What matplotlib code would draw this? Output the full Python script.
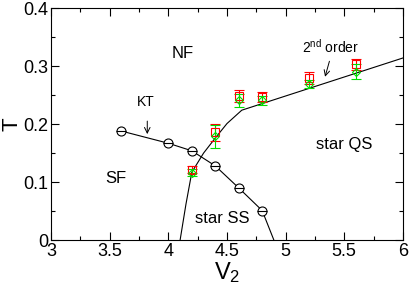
import matplotlib
matplotlib.use("Agg")
import matplotlib.pyplot as plt

plt.rcParams["font.family"] = ["Liberation Sans", "DejaVu Sans"]
plt.rcParams["mathtext.fontset"] = "custom"
plt.rcParams["mathtext.rm"] = "Liberation Sans"
plt.rcParams["mathtext.it"] = "Liberation Sans"

# KT line (circles)
kt_v = [3.6, 4.0, 4.2, 4.4, 4.6, 4.8, 4.9]
kt_t = [0.188, 0.167, 0.154, 0.128, 0.090, 0.051, 0.0]
kt_mark_v = [3.6, 4.0, 4.2, 4.4, 4.6, 4.8]
kt_mark_t = [0.188, 0.167, 0.154, 0.128, 0.090, 0.051]

# other boundary line
b_v = [4.1, 4.15, 4.2, 4.3, 4.4, 4.5, 4.626, 6.0]
b_t = [0.0, 0.062, 0.117, 0.150, 0.176, 0.201, 0.224, 0.314]

# data with error bars
pts_v = [4.2, 4.4, 4.6, 4.8, 5.2, 5.6]
red_t = [0.121, 0.186, 0.249, 0.247, 0.279, 0.303]
red_err = [0.006, 0.015, 0.010, 0.008, 0.010, 0.010]
green_t = [0.116, 0.179, 0.241, 0.241, 0.269, 0.290]
green_err = [0.006, 0.020, 0.011, 0.008, 0.007, 0.013]

fig = plt.figure(figsize=(4.09, 2.90), dpi=100)
ax = fig.add_axes([0.125, 0.172, 0.86, 0.8])

ax.plot(kt_v, kt_t, color="black", lw=0.8)
ax.plot(b_v, b_t, color="black", lw=0.8)
ax.plot(kt_mark_v, kt_mark_t, "o", mfc="white", mec="black", ms=6.5, mew=0.8)
ax.plot(kt_mark_v, kt_mark_t, "_", color="black", ms=6.5, mew=0.8)

ax.errorbar(pts_v, red_t, yerr=red_err, fmt="s", mfc="none", mec="red",
            ecolor="red", ms=6, mew=0.8, elinewidth=0.8, capsize=3.5, capthick=0.8)
ax.errorbar(pts_v, green_t, yerr=green_err, fmt="D", mfc="none", mec="#00dd00",
            ecolor="#00dd00", ms=4.5, mew=0.8, elinewidth=0.8, capsize=3.5, capthick=0.8)

ax.text(4.12, 0.322, "NF", fontsize=12, ha="center", va="center")
ax.text(3.55, 0.107, "SF", fontsize=12, ha="center", va="center")
ax.text(4.46, 0.038, "star SS", fontsize=12, ha="center", va="center")
ax.text(5.5, 0.164, "star QS", fontsize=12, ha="center", va="center")
ax.text(3.81, 0.238, "KT", fontsize=10, ha="center", va="center")
ax.text(5.38, 0.333, r"2$^{\mathrm{nd}}$ order", fontsize=10, ha="center", va="center")
ax.annotate("", xy=(3.82, 0.178), xytext=(3.82, 0.210),
            arrowprops=dict(arrowstyle="->", lw=0.7, color="black"))
ax.annotate("", xy=(5.33, 0.277), xytext=(5.38, 0.313),
            arrowprops=dict(arrowstyle="->", lw=0.7, color="black"))

ax.set_xlim(3, 6)
ax.set_ylim(0, 0.4)
ax.set_xticks([3, 3.5, 4, 4.5, 5, 5.5, 6])
ax.set_xticklabels(["3", "3.5", "4", "4.5", "5", "5.5", "6"])
ax.set_yticks([0, 0.1, 0.2, 0.3, 0.4])
ax.set_yticklabels(["0", "0.1", "0.2", "0.3", "0.4"])
ax.set_xticks([3.25, 3.75, 4.25, 4.75, 5.25, 5.75], minor=True)
ax.set_yticks([0.05, 0.15, 0.25, 0.35], minor=True)
ax.tick_params(which="both", direction="in", top=True, right=True, width=0.8)
ax.tick_params(which="major", length=6, labelsize=13, pad=2)
ax.tick_params(which="minor", length=3)
for s in ax.spines.values():
    s.set_linewidth(0.8)

ax.set_xlabel(r"V$_2$", fontsize=17, labelpad=0)
ax.set_ylabel("T", fontsize=16, va="center")
ax.yaxis.set_label_coords(-0.11, 0.5)

fig.savefig("out.png", dpi=100)
